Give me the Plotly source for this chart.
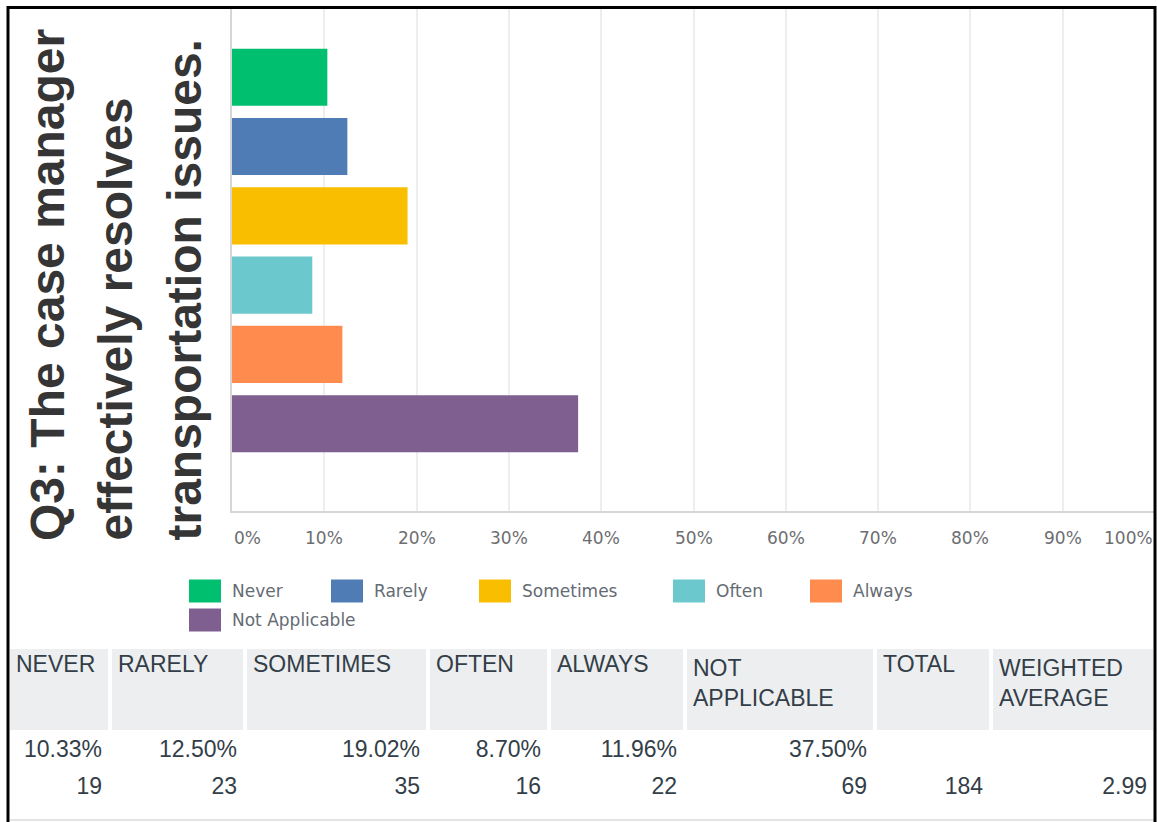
import plotly.graph_objects as go

# survey answer data
CATEGORIES = ["Never", "Rarely", "Sometimes", "Often", "Always", "Not Applicable"]
PERCENTS = [10.33, 12.50, 19.02, 8.70, 11.96, 37.50]
COUNTS = [19, 23, 35, 16, 22, 69]
TOTAL = 184
WEIGHTED_AVG = 2.99

TICK_VALUES = [0, 10, 20, 30, 40, 50, 60, 70, 80, 90, 100]
TICK_LABELS = ["0%", "10%", "20%", "30%", "40%", "50%", "60%", "70%", "80%", "90%", "100%"]

TABLE_HEADERS = ["NEVER", "RARELY", "SOMETIMES", "OFTEN", "ALWAYS",
                 "NOT<br>APPLICABLE", "TOTAL", "WEIGHTED<br>AVERAGE"]

TITLE_LINES = ["Q3: The case manager", "effectively resolves", "transportation issues."]

COLORS = ["#00bf6f", "#507cb6", "#f9be00", "#6bc8cd", "#ff8b4f", "#7f5f90"]

W, H = 1157, 822


def px(x):
    return x / W


def py(y):
    return 1 - y / H


fig = go.Figure()

fig.add_trace(
    go.Bar(
        x=PERCENTS,
        y=CATEGORIES,
        orientation="h",
        marker={"color": COLORS, "line": {"width": 0}},
        hoverinfo="x+y",
        showlegend=False,
    )
)

# results table below the chart: percent row, then count row
pct_row = [f"{p:.2f}%" for p in PERCENTS] + ["", ""]
count_row = [str(c) for c in COUNTS] + [str(TOTAL), f"{WEIGHTED_AVG:.2f}"]
table_font = {"family": "Liberation Sans, Arial, sans-serif", "size": 23, "color": "#333e48"}

fig.add_trace(
    go.Table(
        domain={"x": [px(8), px(1155)], "y": [0, py(647)]},
        columnwidth=[102, 135, 183, 121, 136, 190, 116, 164],
        header={
            "values": TABLE_HEADERS,
            "align": "left",
            "fill": {"color": "#edeeef"},
            "line": {"color": "white", "width": 4},
            "font": table_font,
            "height": 85,
        },
        cells={
            "values": [[p, c] for p, c in zip(pct_row, count_row)],
            "align": "right",
            "fill": {"color": "white"},
            "line": {"color": "white", "width": 0},
            "font": table_font,
            "height": 37,
        },
    )
)

shapes = []
annotations = []

# custom legend with wide rounded swatches
legend_pos = [(189, 591), (331, 591), (479, 591), (673, 591), (810, 591), (189, 620)]
for name, color, (lx, ly) in zip(CATEGORIES, COLORS, legend_pos):
    shapes.append({
        "type": "rect", "xref": "paper", "yref": "paper",
        "x0": px(lx), "x1": px(lx + 32), "y0": py(ly + 11.5), "y1": py(ly - 11.5),
        "fillcolor": color, "line": {"width": 0}, "layer": "above",
    })
    annotations.append({
        "text": name, "xref": "paper", "yref": "paper",
        "x": px(lx + 41), "y": py(ly), "xanchor": "left", "yanchor": "middle",
        "showarrow": False,
        "font": {"family": "DejaVu Sans, sans-serif", "size": 17, "color": "#656b73"},
    })

# x tick labels, first and last pulled inside the frame
for i, (val, lab) in enumerate(zip(TICK_VALUES, TICK_LABELS)):
    anchor = "center"
    shift = 0
    if i == 0:
        anchor, shift = "left", 0
    elif i == len(TICK_VALUES) - 1:
        anchor, shift = "right", 0
    annotations.append({
        "text": lab, "xref": "x", "yref": "paper",
        "x": val, "y": py(538), "xanchor": anchor, "yanchor": "middle", "xshift": shift,
        "showarrow": False,
        "font": {"family": "DejaVu Sans, sans-serif", "size": 17, "color": "#6d6e71"},
    })

# rotated question title, one annotation per line
for line, cx in zip(TITLE_LINES, [47, 115, 184]):
    annotations.append({
        "text": f"<b>{line}</b>", "xref": "paper", "yref": "paper",
        "x": px(cx), "y": py(543), "xanchor": "center", "yanchor": "bottom",
        "textangle": -90, "showarrow": False,
        "font": {"family": "Liberation Sans, Arial, sans-serif", "size": 48, "color": "#353535"},
    })

# table bottom rule and outer frame
shapes.append({
    "type": "line", "xref": "paper", "yref": "paper",
    "x0": px(10), "x1": px(1155), "y0": py(820), "y1": py(820),
    "line": {"color": "#e3e4e5", "width": 2},
})
shapes.append({
    "type": "rect", "xref": "paper", "yref": "paper",
    "x0": px(8), "x1": px(1155), "y0": py(830), "y1": py(7.5),
    "line": {"color": "black", "width": 3}, "fillcolor": "rgba(0,0,0,0)", "layer": "above",
})

fig.update_layout(
    width=W,
    height=H,
    margin={"l": 0, "r": 0, "t": 0, "b": 0, "pad": 0},
    paper_bgcolor="white",
    plot_bgcolor="white",
    bargap=0.176,
    xaxis={
        "domain": [px(232), px(1155)],
        "range": [0, 100],
        "tickvals": TICK_VALUES,
        "showticklabels": False,
        "showgrid": True,
        "gridcolor": "#eeeeee",
        "gridwidth": 2,
        "zeroline": False,
        "showline": True,
        "linecolor": "#d6d6d6",
        "linewidth": 2,
        "fixedrange": True,
    },
    yaxis={
        "domain": [py(511), py(8)],
        "type": "category",
        "categoryarray": CATEGORIES,
        "range": [6.26, -1.0],
        "showticklabels": False,
        "showgrid": False,
        "zeroline": False,
        "showline": True,
        "linecolor": "#d6d6d6",
        "linewidth": 2,
        "fixedrange": True,
    },
    shapes=shapes,
    annotations=annotations,
)

# drop the default page margin so the figure sits at the window corner
fig.write_html(
    "out.html",
    config={"displayModeBar": False},
    post_script="document.body.style.margin = '0';",
)
